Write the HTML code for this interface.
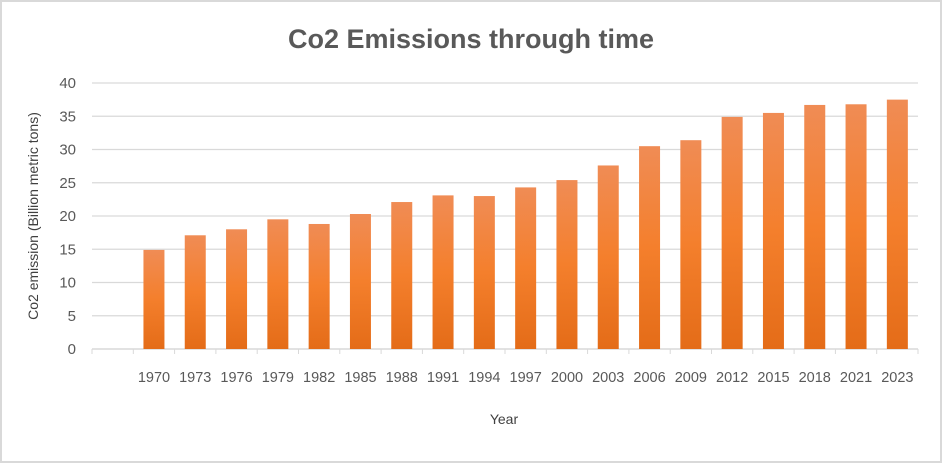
<!DOCTYPE html>
<html><head><meta charset="utf-8"><style>
html,body{margin:0;padding:0;background:#fff;}
svg{display:block;font-family:"Liberation Sans",sans-serif;}
</style></head><body>
<svg id="chart" width="942" height="463">
<defs><linearGradient id="g" x1="0" y1="0" x2="0" y2="1">
<stop offset="0" stop-color="#f08c55"/><stop offset="0.5" stop-color="#f47f2c"/><stop offset="1" stop-color="#e46c18"/></linearGradient></defs>
<rect x="1" y="1" width="940" height="461" fill="#fff" stroke="#d9d9d9" stroke-width="2"/>
<text x="471" y="48" text-anchor="middle" font-size="27" font-weight="bold" fill="#595959">Co2 Emissions through time</text>
<text transform="translate(38,216) rotate(-90)" text-anchor="middle" font-size="14" fill="#404040">Co2 emission (Billion metric tons)</text>
<text x="504" y="424" text-anchor="middle" font-size="14" fill="#404040">Year</text>
<g id="grid"></g><g id="bars"></g><g id="xaxis"></g>
</svg>
<script>
const categories=["","1970","1973","1976","1979","1982","1985","1988","1991","1994","1997","2000","2003","2006","2009","2012","2015","2018","2021","2023"];
const values=[null,14.9,17.1,18.0,19.5,18.8,20.3,22.1,23.1,23.0,24.3,25.4,27.6,30.5,31.4,34.9,35.5,36.7,36.8,37.5];
const yTicks=[0,5,10,15,20,25,30,35,40];
const NS="http://www.w3.org/2000/svg";
const x0=92,x1=918,yTop=83,yBot=349,yMax=40;
const bw=(x1-x0)/categories.length;
const y=v=>yBot-(v/yMax)*(yBot-yTop);
const xc=i=>x0+bw*(i+0.5);
function mk(t,a,p){const e=document.createElementNS(NS,t);for(const k in a)e.setAttribute(k,a[k]);p.appendChild(e);return e;}
const grid=document.getElementById('grid'),bars=document.getElementById('bars'),xa=document.getElementById('xaxis');
yTicks.forEach(v=>{
 const l=mk('line',{x1:x0,x2:x1,y1:y(v),y2:y(v),stroke:'#d9d9d9','stroke-width':v===0?1.5:1.3},grid);
 
 
 const t=mk('text',{x:76,y:y(v)+5,'text-anchor':'end','font-size':15,fill:'#595959'},grid);
 t.textContent=v;
 
 
});
for(let i=0;i<=categories.length;i++){
 const tk=mk('line',{x1:x0+bw*i,x2:x0+bw*i,y1:yBot,y2:yBot+5,stroke:'#d9d9d9','stroke-width':1},xa);
 
 
}
categories.forEach((c,i)=>{
 if(values[i]!=null){
  const r=mk('rect',{x:xc(i)-10.5,y:y(values[i]),width:21,height:yBot-y(values[i]),fill:'url(#g)'},bars);
  
  
 }
 if(c){
  const t=mk('text',{x:xc(i),y:382,'text-anchor':'middle','font-size':14.5,fill:'#595959'},xa);
  t.textContent=c;
  
  
 }
});
</script>
</body></html>
